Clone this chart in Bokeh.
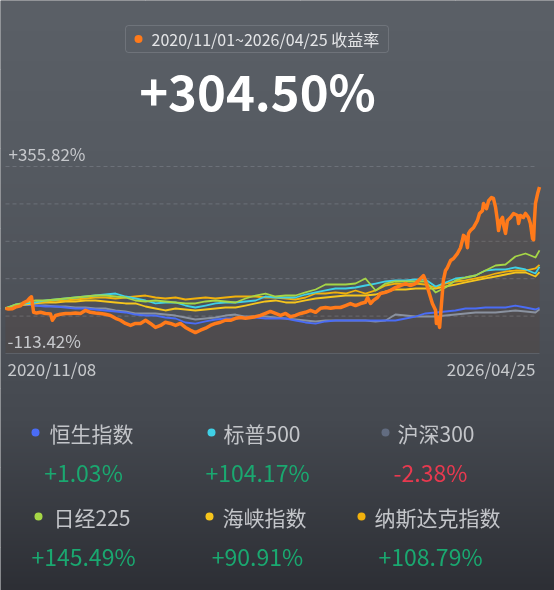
import numpy as np
import pandas as pd
from bokeh.plotting import figure
from bokeh.models import Range1d, Label, BoxAnnotation
from bokeh.embed import file_html
from bokeh.resources import INLINE

# ---------------- data ----------------
start_date = "2020-11-08"
end_date = "2026-04-25"
range_title = "2020/11/01~2026/04/25 收益率"
headline = "+304.50%"
y_max_label = 355.82
y_min_label = -113.42
x_tick_labels = ["2020/11/08", "2026/04/25"]

names = ["恒生指数", "标普500", "沪深300", "日经225", "海峡指数", "纳斯达克指数"]
returns = [1.03, 104.17, -2.38, 145.49, 90.91, 108.79]

# portfolio (orange) : day offset from start_date, cumulative return %
days_portfolio = [0, 11, 26, 37, 56, 67, 82, 93, 97, 105, 116, 131, 149, 168, 175, 187, 205, 224, 243, 261,
                  280, 299, 317, 336, 355, 373, 392, 411, 429, 448, 467, 485, 504, 523, 541, 560, 579, 597, 616, 635,
                  653, 672, 691, 709, 728, 747, 765, 784, 803, 821, 840, 859, 877, 896, 915, 933, 952, 971, 989, 1008,
                  1027, 1046, 1064, 1083, 1102, 1120, 1139, 1158, 1176, 1195, 1214, 1232, 1251, 1270, 1288, 1307, 1326, 1344, 1352, 1363,
                  1374, 1389, 1400, 1419, 1438, 1456, 1475, 1494, 1512, 1531, 1550, 1561, 1568, 1579, 1594, 1606, 1609, 1613, 1621, 1628,
                  1632, 1635, 1643, 1650, 1662, 1673, 1688, 1699, 1706, 1710, 1718, 1725, 1729, 1736, 1748, 1762, 1770, 1781, 1785, 1796,
                  1804, 1815, 1822, 1830, 1837, 1841, 1848, 1856, 1860, 1867, 1874, 1886, 1897, 1912, 1916, 1923, 1934, 1942, 1953, 1960,
                  1968, 1972, 1975, 1979, 1987, 1994]
portfolio = [0, -2, -1, 3, 6, 14, 19, 27, 29, -10, -12, -10, -13, -14, -30, -18, -15, -13, -13, -12,
             -13, -5, -10, -12, -13, -15, -18, -25, -30, -38, -43, -38, -38, -30, -38, -48, -43, -35, -38, -43,
             -38, -48, -55, -61, -55, -50, -43, -38, -35, -30, -30, -25, -23, -25, -23, -21, -18, -13, -8, -13,
             -18, -13, -21, -18, -13, -10, -5, -10, 0, 2, 0, 2, 2, 7, 12, 7, 12, 15, 27, 12,
             20, 27, 37, 40, 45, 52, 57, 62, 57, 62, 75, 82, 70, 45, 12, -5, -38, -23, -48, 12,
             45, 70, 95, 102, 120, 125, 138, 152, 170, 183, 178, 152, 188, 195, 203, 220, 238, 245, 263, 250,
             270, 278, 276, 253, 220, 195, 220, 228, 208, 188, 220, 228, 238, 233, 213, 233, 228, 238, 228, 213,
             175, 172, 220, 263, 288, 304.50]

# benchmark indices: day offset from start_date, cumulative return %
days_index = [0, 37, 75, 112, 149, 187, 224, 261, 299, 336, 373, 411, 448, 485, 523, 560, 597, 635, 672, 709,
              747, 784, 821, 859, 896, 934, 971, 1008, 1046, 1083, 1120, 1158, 1195, 1232, 1270, 1307, 1344, 1382, 1419, 1456,
              1494, 1531, 1568, 1606, 1643, 1680, 1718, 1755, 1792, 1830, 1867, 1904, 1942, 1979, 1994]
hsi = [0, 7.0, 9.5, 7.0, 4.5, 4.5, 2.0, -0.5, -0.5, -3.0, -5.5, -8.0, -10.5, -15.6, -18.1, -18.1, -23.1, -25.6, -35.6, -38.2,
       -33.1, -28.1, -25.6, -25.6, -23.1, -23.1, -25.6, -25.6, -25.6, -30.6, -35.6, -38.2, -33.1, -30.6, -30.6, -30.6, -30.6, -30.6, -30.6, -30.6,
       -25.6, -20.6, -13.0, -10.5, -8.0, -5.5, -0.5, -0.5, 2.0, 2.0, 2.0, 7.0, 2.0, -3.0, 1.03]
spx = [0, 9.5, 12.1, 14.6, 19.6, 22.1, 24.6, 27.1, 29.6, 32.1, 34.6, 37.1, 29.6, 24.6, 19.6, 12.1, 14.6, 14.6, 7.0, 2.0,
       7.0, 12.1, 14.6, 14.6, 17.1, 19.6, 29.6, 27.1, 27.1, 27.1, 34.6, 39.7, 44.7, 49.7, 49.7, 52.2, 57.2, 62.2, 67.3, 69.8,
       69.8, 72.3, 72.3, 54.7, 64.8, 74.8, 77.3, 82.3, 94.8, 97.4, 97.4, 102.4, 97.4, 87.3, 104.17]
csi300 = [0, 7.0, 9.5, 7.0, 7.0, 4.5, 4.5, 2.0, 2.0, -0.5, -0.5, -5.5, -8.0, -13.0, -13.0, -13.0, -15.6, -18.1, -23.1, -28.1,
          -25.6, -23.1, -18.1, -15.6, -20.6, -20.6, -20.6, -23.1, -25.6, -28.1, -30.6, -33.1, -30.6, -30.6, -30.6, -30.6, -30.6, -33.1, -30.6, -15.6,
          -18.1, -20.6, -20.6, -20.6, -18.1, -15.6, -13.0, -10.5, -10.5, -10.5, -8.0, -5.5, -8.0, -10.5, -2.38]
n225 = [0, 9.5, 14.6, 19.6, 19.6, 22.1, 24.6, 27.1, 29.6, 32.1, 32.1, 29.6, 27.1, 19.6, 17.1, 19.6, 17.1, 14.6, 12.1, 12.1,
        17.1, 19.6, 17.1, 14.6, 24.6, 32.1, 37.1, 29.6, 32.1, 32.1, 39.7, 47.2, 59.7, 59.7, 59.7, 62.2, 74.8, 44.7, 62.2, 67.3,
        67.3, 67.3, 67.3, 39.7, 52.2, 69.8, 77.3, 82.3, 94.8, 107.4, 109.9, 130.0, 137.5, 127.5, 145.49]
strait = [0, 7.0, 9.5, 12.1, 14.6, 14.6, 17.1, 17.1, 19.6, 19.6, 17.1, 14.6, 12.1, 12.1, 4.5, -0.5, -5.5, -0.5, -3.0, -5.5,
          -3.0, -0.5, 2.0, 2.0, 7.0, 12.1, 17.1, 19.6, 14.6, 14.6, 19.6, 24.6, 27.1, 29.6, 32.1, 32.1, 32.1, 34.6, 42.2, 47.2,
          47.2, 49.7, 49.7, 49.7, 54.7, 59.7, 64.8, 69.8, 74.8, 79.8, 84.8, 89.8, 89.8, 79.8, 90.91]
nasdaq = [0, 7.0, 12.1, 14.6, 17.1, 19.6, 19.6, 22.1, 24.6, 27.1, 27.1, 24.6, 27.1, 29.6, 32.1, 27.1, 24.6, 27.1, 22.1, 24.6,
          27.1, 24.6, 27.1, 29.6, 29.6, 29.6, 27.1, 27.1, 24.6, 22.1, 27.1, 37.1, 37.1, 39.7, 37.1, 44.7, 37.1, 44.7, 57.2, 62.2,
          59.7, 62.2, 59.7, 52.2, 62.2, 67.3, 69.8, 74.8, 79.8, 87.3, 92.3, 94.8, 94.8, 99.9, 108.79]

assert len(days_portfolio) == len(portfolio)
for s in (hsi, spx, csi300, n225, strait, nasdaq):
    assert len(s) == len(days_index), len(s)

# ---------------- style / layout ----------------
W, H = 554, 590
FONT = "Noto Sans CJK SC"
ORANGE = "#ff7a1a"
line_colors = {"hsi": "#4a6cf5", "spx": "#3fd0e6", "csi300": "#8a92a0",
               "n225": "#a6d646", "strait": "#f6c51c", "nasdaq": "#f2b10c"}
dot_colors = ["#4a6cf5", "#3fd0e6", "#626c80", "#a6d646", "#f6c51c", "#f2b10c"]
GREEN, RED = "#1aa870", "#e8394f"

CX0, CX1 = 5, 539       # chart horizontal extent (px)
CY0, CY1 = 166, 353     # chart vertical extent (px) for max / min labels

t0 = pd.Timestamp(start_date)
t1 = pd.Timestamp(end_date)
DAY_MS = 86400000.0
t0_ms = t0.value / 1e6
span_days = (t1 - t0).days
px_per_day = (CX1 - CX0) / span_days
val_per_px = (y_max_label - y_min_label) / (CY1 - CY0)

x_start = t0_ms - CX0 / px_per_day * DAY_MS
x_end = t0_ms + (W - CX0) / px_per_day * DAY_MS
y_end = y_max_label + CY0 * val_per_px
y_start = y_min_label - (H - CY1) * val_per_px


def px2x(px):
    return x_start + px / W * (x_end - x_start)


def px2y(py):
    return y_end - py / H * (y_end - y_start)


def to_x(days):
    return t0_ms + np.asarray(days, dtype=float) * DAY_MS


p = figure(width=W, height=H, x_range=Range1d(x_start, x_end), y_range=Range1d(y_start, y_end),
           output_backend="svg", toolbar_location=None, x_axis_location=None, y_axis_location=None,
           min_border=0)
p.outline_line_color = None
p.background_fill_color = "#4e5259"
p.border_fill_color = "#4e5259"
p.styles = {"position": "fixed", "left": "0px", "top": "0px"}

# background gradient
stops_y = [0, 150, 300, 420, 590]
stops_c = [(91, 96, 103), (86, 91, 98), (78, 82, 89), (69, 73, 80), (45, 47, 53)]
rows = np.arange(H)[::-1].astype(float)
img = np.empty((H, 2), dtype=np.uint32)
view = img.view(dtype=np.uint8).reshape((H, 2, 4))
for ch in range(3):
    view[:, :, ch] = np.interp(rows, stops_y, [c[ch] for c in stops_c])[:, None].astype(np.uint8)
view[:, :, 3] = 255
p.image_rgba(image=[img], x=x_start, y=y_start, dw=x_end - x_start, dh=y_end - y_start)

# grid lines
grid_vals = np.linspace(y_min_label, y_max_label, 6)
p.segment(x0=[px2x(CX0)] * 5, x1=[px2x(537)] * 5, y0=grid_vals[1:], y1=grid_vals[1:],
          line_color="#6c7179", line_width=1, line_dash="4 3")

# area under portfolio
xp = to_x(days_portfolio)
base = [y_min_label] * len(portfolio)
p.varea(x=xp, y1=portfolio, y2=base, fill_color="#26262a", fill_alpha=0.10)
p.varea(x=xp, y1=portfolio, y2=base, fill_color=ORANGE, fill_alpha=0.045)
p.segment(x0=[px2x(CX0)], x1=[px2x(CX1)], y0=[y_min_label], y1=[y_min_label],
          line_color="#5d6168", line_width=1)

xi = to_x(days_index)
for key, series in (("csi300", csi300), ("hsi", hsi), ("strait", strait), ("nasdaq", nasdaq),
                    ("spx", spx), ("n225", n225)):
    p.line(xi, series, line_color=line_colors[key], line_width=1.8, line_join="round")
p.line(xp, portfolio, line_color=ORANGE, line_width=3.5, line_join="round")


def lab(text, x, y, size, color, align="left", bold=False):
    p.add_layout(Label(x=x, y=H - y, x_units="screen", y_units="screen", text=text,
                       text_font=FONT, text_font_size=f"{size}px", text_color=color,
                       text_align=align, text_baseline="middle",
                       text_font_style="bold" if bold else "normal"))


# header
p.add_layout(BoxAnnotation(left=125, right=388, top=H - 25, bottom=H - 52,
                           left_units="screen", right_units="screen", top_units="screen", bottom_units="screen",
                           fill_color=None, line_color="#a2a6ac", line_width=1, border_radius=3))
p.scatter(x=[px2x(138)], y=[px2y(38.5)], size=8, fill_color=ORANGE, line_color=None)
lab(range_title, 151, 38.5, 16, "#e4e5e7")
lab(headline, 257, 89, 49, "#ffffff", align="center", bold=True)

# axis labels
lab(f"+{y_max_label:.2f}%", 8, 153, 17, "#c6c8cc")
lab(f"{y_min_label:.2f}%", 7, 340, 17, "#c6c8cc")
lab(x_tick_labels[0], 7, 368, 17, "#c8cacd")
lab(x_tick_labels[1], 535, 368, 17, "#c8cacd", align="right")

# legend
col_center = [83, 257, 430]
dot_x = [35, 211, 385, 38, 209, 361]
name_x = [49, 223, 397, 53, 222, 374]
name_y = [433, 517]
val_y = [471, 555]
for i, (nm, r) in enumerate(zip(names, returns)):
    row, col = divmod(i, 3)
    p.scatter(x=[px2x(dot_x[i])], y=[px2y(name_y[row] - 1)], size=8, fill_color=dot_colors[i], line_color=None)
    lab(nm, name_x[i], name_y[row] - 1, 21, "#c3c5c9")
    lab(f"{r:+.2f}%", col_center[col], val_y[row], 23, GREEN if r >= 0 else RED, align="center")

open("out.html", "w").write(file_html(p, INLINE))
